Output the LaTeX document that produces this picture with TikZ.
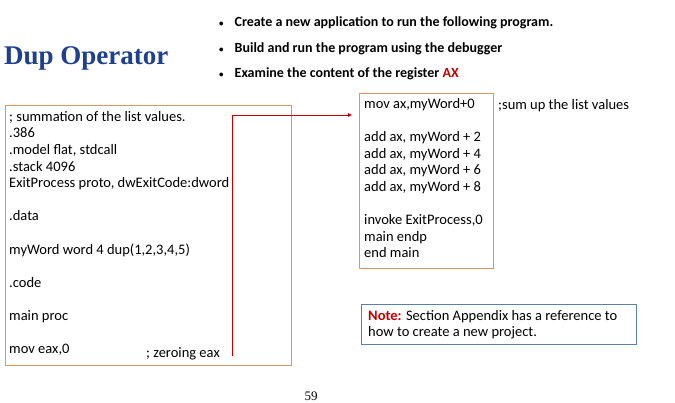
\documentclass[tikz,border=0pt]{standalone}
\usepackage{fontspec}
\usetikzlibrary{arrows.meta}
\setmainfont{Carlito}
\newfontfamily\seriff{Liberation Serif}
\definecolor{boxor}{HTML}{D09A6A}
\definecolor{darkred}{HTML}{C00000}
\definecolor{titleblue}{HTML}{1F3F8F}
\definecolor{notebl}{HTML}{5A7FA8}
\begin{document}
\begin{tikzpicture}[x=1pt,y=-1pt,
  code/.style={anchor=north west,align=left,font=\fontsize{14.5}{16.6}\selectfont,inner sep=0pt},
  bul/.style={anchor=west,font=\bfseries\fontsize{14}{16}\selectfont,inner sep=0pt}]
\useasboundingbox (0,0) rectangle (675,402);
\node[anchor=west,inner sep=0pt,text=titleblue,font=\seriff\bfseries\fontsize{27}{30}\selectfont] (title) at (4,58) {Dup Operator};
\node[bul] (b1) at (219,23) {{\small\textbullet}\hspace{11pt}Create a new application to run the following program.};
\node[bul] (b2) at (219,49) {{\small\textbullet}\hspace{11pt}Build and run the program using the debugger};
\node[bul] (b3) at (219,74) {{\small\textbullet}\hspace{11pt}Examine the content of the register \textcolor{darkred}{AX}};
\draw[boxor] (5,105) rectangle (291,365);
\node[code] (left) at (9,111) {; summation of the list values.\\.386\\.model flat, stdcall\\.stack 4096\\ExitProcess proto, dwExitCode:dword\\[16.6pt].data\\[16.6pt]myWord word 4 dup(1,2,3,4,5)\\[16.6pt].code\\[16.6pt]main proc\\[16.6pt]mov eax,0};
\node[code,anchor=base west] (zero) at (146,357) {; zeroing eax};
\draw[boxor] (359,93) rectangle (493,268);
\node[code] (right) at (364,98) {mov ax,myWord+0\\[16.6pt]add ax, myWord + 2\\add ax, myWord + 4\\add ax, myWord + 6\\add ax, myWord + 8\\[16.6pt]invoke ExitProcess,0\\main endp\\end main};
\node[code,anchor=base west] (sum) at (498,109) {;sum up the list values};
\draw[notebl] (361,304) rectangle (636,344);
\node[code] (note) at (368,310) {\textcolor{darkred}{\bfseries Note:} Section Appendix has a reference to\\how to create a new project.};
\coordinate (s) at (232,356);
\coordinate (c) at (232,115);
\coordinate (e) at (352,115);
\draw[darkred,-{Latex[length=4pt,width=4pt]}] (s) -- (c) -- (e);
\node[inner sep=0pt,font=\seriff\fontsize{13}{15}\selectfont] (pg) at (311,396) {59};
\end{tikzpicture}
\end{document}
